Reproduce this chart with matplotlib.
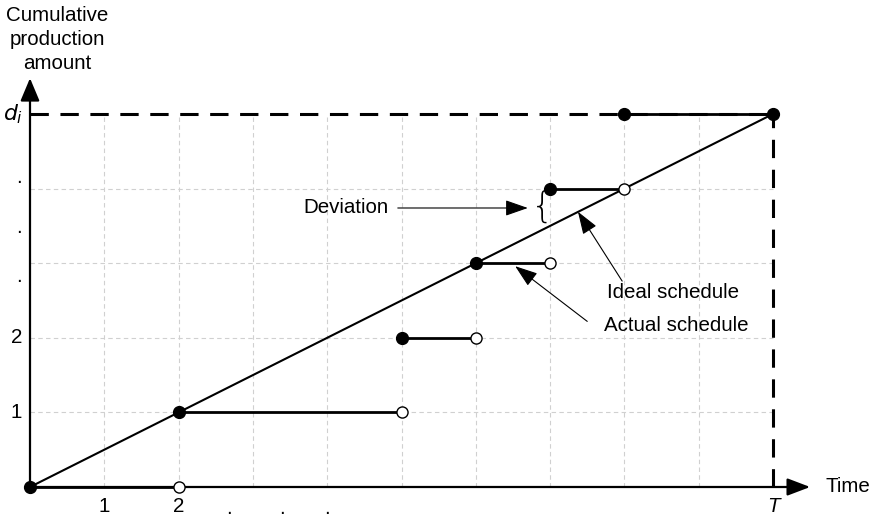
import matplotlib.pyplot as plt
import numpy as np

plt.rcParams['font.family'] = ['Liberation Sans', 'DejaVu Sans']

# schedule data: each step of the actual schedule
step_start = [0, 2, 5, 6, 7, 8]
step_end = [2, 5, 6, 7, 8, 10]
step_level = [0, 1, 2, 3, 4, 5]
T = 10
d_i = 5

x_ticks = [1, 2]
y_ticks = [1, 2]

fig = plt.figure(figsize=(8.75, 5.17), dpi=100)
ax = fig.add_axes([0, 0, 1, 1])
ax.set_xlim(-30 / 74.3, 845 / 74.3)
ax.set_ylim(-30 / 74.6, 487 / 74.6)
ax.axis('off')

grid_kw = dict(color='#d0d0d0', lw=0.8, ls=(0, (4, 3)), zorder=1)
for gx in range(1, T):
    ax.plot([gx, gx], [0, d_i], **grid_kw)
for gy in range(1, d_i):
    ax.plot([0, T], [gy, gy], **grid_kw)

# demand level and horizon
ax.plot([0, T], [d_i, d_i], color='black', lw=2.2, ls=(0, (6.0, 3.8)), zorder=2)
ax.plot([T, T], [0, d_i], color='black', lw=2.2, ls=(0, (6.0, 3.8)), zorder=2)

# axes with arrows
ax.annotate('', xy=(0, 5.48), xytext=(0, 0),
            arrowprops=dict(arrowstyle='-|>,head_length=1.0,head_width=0.42',
                            mutation_scale=14, lw=1.6, color='black',
                            shrinkA=0, shrinkB=0), zorder=3)
ax.annotate('', xy=(10.5, 0), xytext=(0, 0),
            arrowprops=dict(arrowstyle='-|>,head_length=1.0,head_width=0.38',
                            mutation_scale=14, lw=1.6, color='black',
                            shrinkA=0, shrinkB=0), zorder=3)

# ideal schedule
ax.plot([0, T], [0, d_i], color='black', lw=1.5, zorder=4)

# actual schedule
for xs, xe, lv in zip(step_start, step_end, step_level):
    ax.plot([xs, xe], [lv, lv], color='black', lw=2.0, zorder=4)
    ax.plot(xs, lv, 'o', ms=8.5, mfc='black', mec='black', zorder=6)
    if xe == T:
        ax.plot(xe, lv, 'o', ms=8.5, mfc='black', mec='black', zorder=6)
    else:
        ax.plot(xe, lv, 'o', ms=8, mfc='white', mec='black', mew=1.0, zorder=6)

fs = 14.8
for t in x_ticks:
    ax.text(t, -0.26, str(t), ha='center', va='center', fontsize=fs)
for t in y_ticks:
    ax.text(-0.18, t, str(t), ha='center', va='center', fontsize=fs)
ax.text(T, -0.26, 'T', ha='center', va='center', fontsize=fs, style='italic')
ax.text(-0.23, d_i, r'$d_i$', ha='center', va='center', fontsize=fs + 1)

# elided tick labels
for px in [229, 282, 327]:
    ax.text((px - 30) / 74.3, -0.36, '.', ha='center', va='baseline', fontsize=fs)
for py in [183, 233, 282]:
    ax.text(-0.15, (487 - py) / 74.6, '.', ha='center', va='baseline', fontsize=fs)

ax.text(0.37, 6.0, 'Cumulative\nproduction\namount', ha='center', va='center',
        fontsize=fs, linespacing=1.32)
ax.text(10.71, 0.0, 'Time', ha='left', va='center', fontsize=fs)

arrow_kw = dict(arrowstyle='-|>,head_length=1.0,head_width=0.35',
                mutation_scale=14, lw=0.8, color='black', shrinkA=0, shrinkB=0)

ax.text(4.82, 3.75, 'Deviation', ha='right', va='center', fontsize=fs)
ax.annotate('', xy=(6.70, 3.74), xytext=(4.95, 3.74), arrowprops=arrow_kw)
ax.text(6.89, 3.76, '{', ha='center', va='center', fontsize=26,
        fontweight='ultralight', family='DejaVu Sans')

ax.text(7.77, 2.61, 'Ideal schedule', ha='left', va='center', fontsize=fs)
ax.annotate('', xy=(7.375, 3.69), xytext=(7.97, 2.76), arrowprops=arrow_kw)
ax.text(7.73, 2.16, 'Actual schedule', ha='left', va='center', fontsize=fs)
ax.annotate('', xy=(6.53, 2.96), xytext=(7.50, 2.22), arrowprops=arrow_kw)

fig.savefig('out.png', dpi=100)
